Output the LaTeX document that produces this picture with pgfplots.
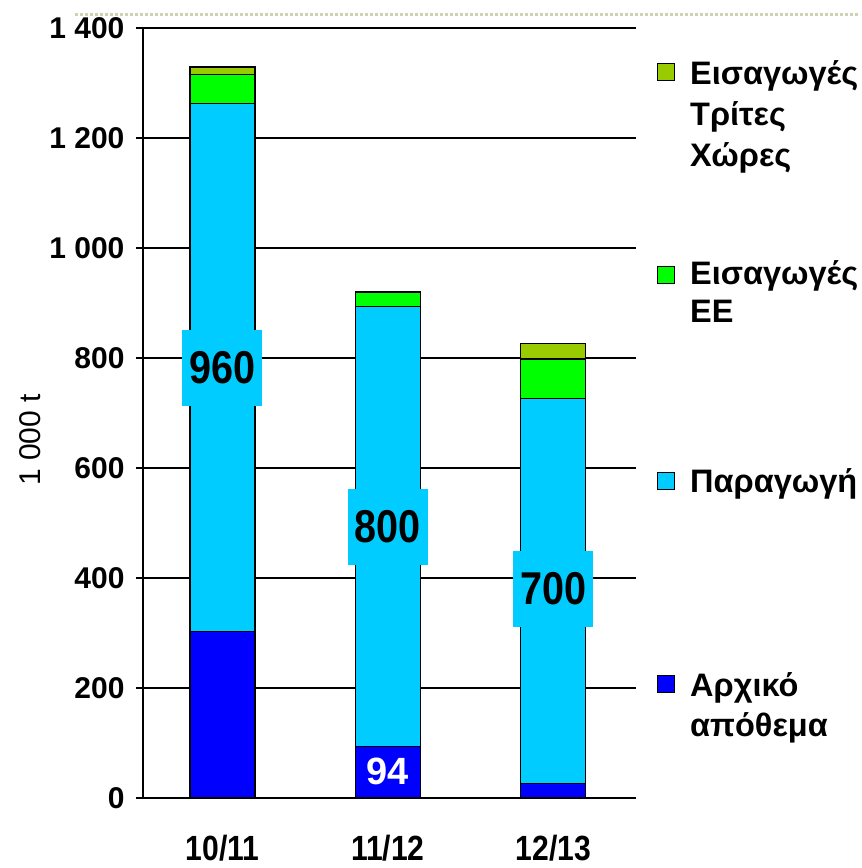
\documentclass[border=0pt]{standalone}
\usepackage{pgfplots}
\pgfplotsset{compat=1.18}
\usepackage{fontspec}
\setmainfont{Liberation Sans}
\newfontfamily\numfont[FakeStretch=0.86]{Liberation Sans}
\definecolor{cA}{RGB}{0,0,255}
\definecolor{cP}{RGB}{0,204,255}
\definecolor{cE}{RGB}{0,255,0}
\definecolor{cT}{RGB}{153,204,0}
\definecolor{dotc}{RGB}{205,210,180}
\begin{document}
\begin{tikzpicture}
\path (0pt,0pt) rectangle (862pt,868pt);
\draw[dotc, dotted, line width=3pt] (75pt,853pt) -- (860pt,853pt);
\begin{axis}[
  at={(143pt,70pt)}, anchor=south west,
  scale only axis, width=493pt, height=770pt,
  xmin=-0.48, xmax=2.5, ymin=0, ymax=1400,
  ybar stacked, bar width=65pt,
  axis x line*=bottom, axis y line*=left,
  axis line style={line width=1.5pt, -},
  xtick={0,1,2}, xticklabels={10/11,11/12,12/13},
  x tick style={draw=none},
  xticklabel style={font=\fontsize{35}{35}\selectfont\bfseries\numfont, anchor=base, inner sep=0pt, yshift=-55.5pt},
  ytick={0,200,400,600,800,1000,1200,1400},
  yticklabels={0,200,400,600,800,1 000,1 200,1 400},
  yticklabel style={font=\fontsize{30}{30}\selectfont\bfseries, anchor=east, xshift=-8pt},
  tick align=outside, major tick length=7pt,
  y tick style={black, line width=1.2pt},
  ymajorgrids, grid style={black, line width=1.2pt},
  ylabel={1 000 t},
  ylabel style={font=\fontsize{30}{30}\selectfont, at={(axis description cs:-0.229,0.465)}, anchor=center, rotate=0},
]
\addplot[fill=cA, draw=black, line width=1.2pt] coordinates {(0,302) (1,94) (2,27)};
\addplot[fill=cP, draw=black, line width=1.2pt] coordinates {(0,960) (1,800) (2,700)};
\addplot[fill=cE, draw=black, line width=1.2pt] coordinates {(0,53) (1,26) (2,71)};
\addplot[fill=cT, draw=black, line width=1.2pt] coordinates {(0,14) (1,0) (2,29)};
\coordinate (L1) at (axis cs:0,782);
\coordinate (L2) at (axis cs:1,493);
\coordinate (L3) at (axis cs:2,380);
\coordinate (L4) at (axis cs:1,49);
\end{axis}
\begin{scope}[every node/.style={fill=cP, minimum width=80pt, minimum height=76pt, inner sep=0pt, font=\fontsize{46}{46}\selectfont\bfseries\numfont}]
\node at (L1) {960};
\node at (L2) {800};
\node at (L3) {700};
\end{scope}
\node[text=white, inner sep=0pt, font=\fontsize{38}{38}\selectfont\bfseries] at (L4) {94};
\begin{scope}[every node/.style={font=\fontsize{32.5}{40}\selectfont\bfseries, inner sep=0pt}]
\node[draw=black, line width=1.2pt, fill=cT, minimum size=17pt] at (666pt,796pt) {};
\node[anchor=base west] at (690pt,783pt) {Εισαγωγές};
\node[anchor=base west] at (690pt,742pt) {Τρίτες};
\node[anchor=base west] at (690pt,701pt) {Χώρες};
\node[draw=black, line width=1.2pt, fill=cE, minimum size=17pt] at (666pt,593pt) {};
\node[anchor=base west] at (690pt,583pt) {Εισαγωγές};
\node[anchor=base west] at (690pt,545pt) {ΕΕ};
\node[draw=black, line width=1.2pt, fill=cP, minimum size=17pt] at (666pt,387pt) {};
\node[anchor=base west] at (690pt,375pt) {Παραγωγή};
\node[draw=black, line width=1.2pt, fill=cA, minimum size=17pt] at (666pt,184pt) {};
\node[anchor=base west] at (690pt,171pt) {Αρχικό};
\node[anchor=base west] at (690pt,131pt) {απόθεμα};
\end{scope}
\end{tikzpicture}
\end{document}
